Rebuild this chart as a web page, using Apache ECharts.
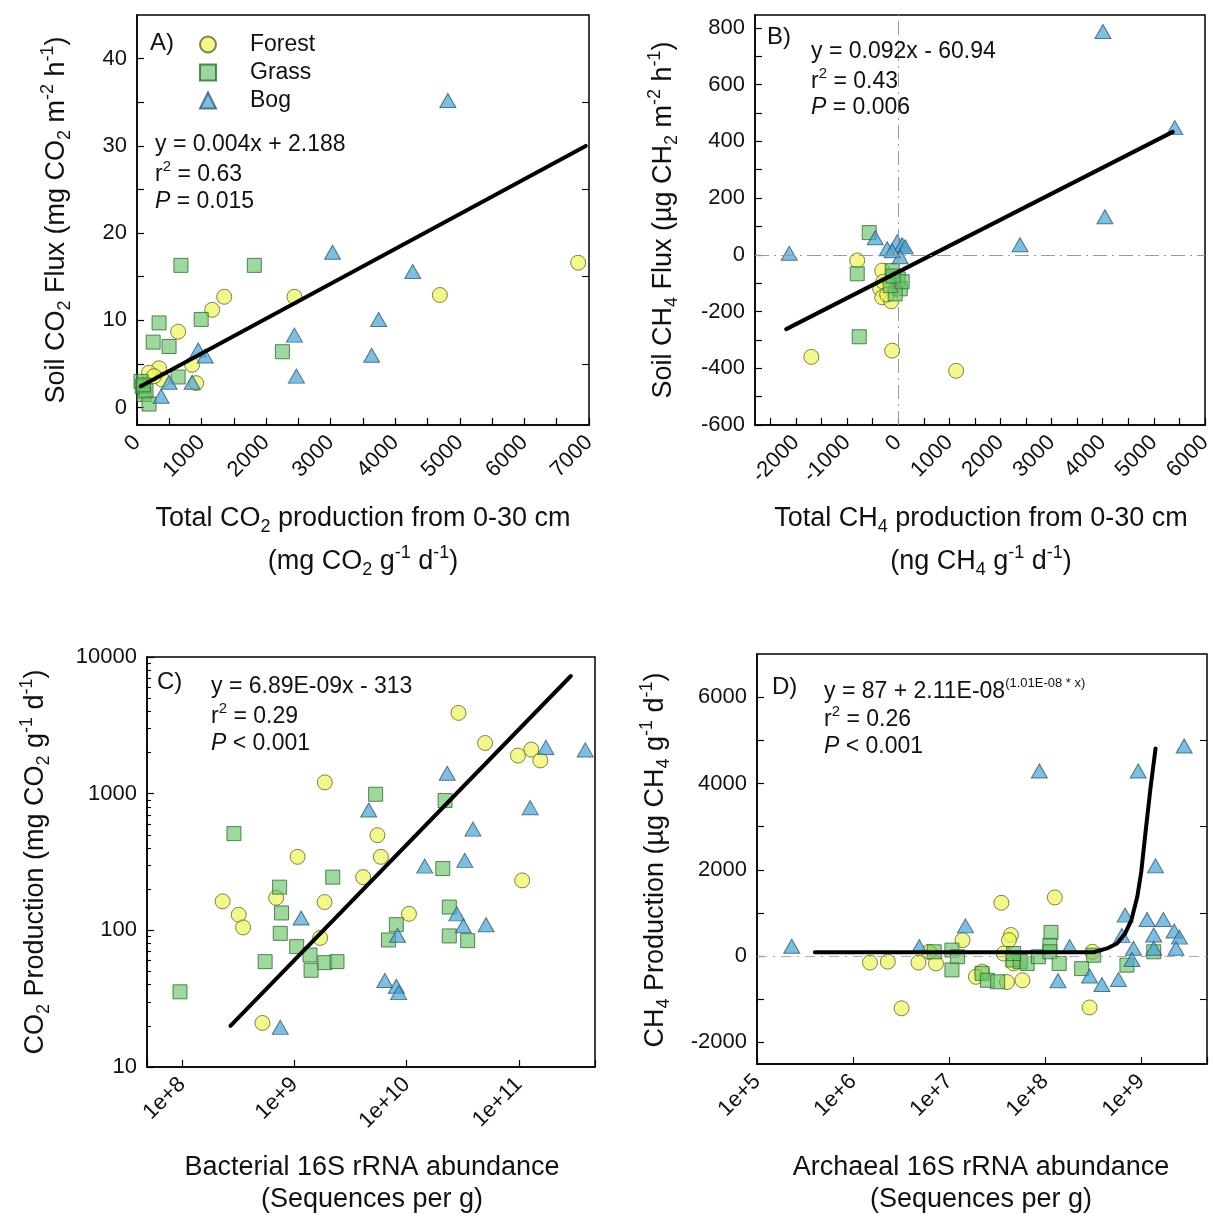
<!DOCTYPE html>
<html><head><meta charset="utf-8">
<script src="https://cdn.jsdelivr.net/npm/echarts@6/dist/echarts.min.js"></script>
<style>html,body{margin:0;padding:0;background:#fff}#c{width:1213px;height:1216px}</style>
</head><body><div id="c"></div>
<script>
// ---------- DATA ----------
// Panel A: Total CO2 production (x) vs Soil CO2 flux (y)
const forestA = [[6832,16.6],[4690,12.9],[2438,12.7],[1351,12.7],[1165,11.2],[637,8.7],[854,4.9],[916,2.8],[342,4.5],[186,4.0],[390,3.2],[264,3.6]];
const grassA  = [[680,16.3],[1817,16.3],[342,9.7],[994,10.1],[250,7.5],[497,7.0],[2252,6.4],[637,3.5],[62,3.0],[80,2.4],[109,1.5],[140,1.9],[186,0.4],[100,2.6]];
const bogA    = [[4814,35.2],[3028,17.8],[4270,15.6],[3742,10.1],[2438,8.3],[3634,6.0],[2469,3.6],[947,6.6],[1056,5.9],[497,2.9],[854,2.9],[373,1.3]];
const fitA    = [[60,2.43],[6950,29.99]];
// Panel B: Total CH4 production (x) vs Soil CH4 flux (y)
const forestB = [[-1699,-360],[1133,-409],[-117,-338],[-801,-20],[-312,-56],[-352,-120],[-312,-150],[-137,-164],[-293,-95],[-215,-140]];
const grassB  = [[-566,78],[-801,-67],[-762,-289],[-117,-56],[0,-85],[39,-120],[-59,-138],[-156,-109],[78,-95],[-98,-75]];
const bogB    = [[4004,787],[5410,448],[4043,134],[2383,35],[-2130,5],[-449,60],[-215,21],[-20,46],[78,35],[137,28],[39,-7],[-117,14]];
const fitB    = [[-2190,-262],[5370,433]];
// Panel C: Bacterial 16S abundance (x, log) vs CO2 production (y, log)
const forestC = [[2.9e10,3900],[5.0e10,2350],[9.8e10,1900],[1.29e11,2100],[1.55e11,1750],[1.07e11,232],[1.87e9,1210],[5.5e9,497],[5.9e9,345],[1.07e9,345],[4.1e9,245],[1.86e9,161],[2.3e8,163],[3.2e8,130],[3.5e8,105],[6.9e8,173],[1.7e9,88],[1.05e10,132],[5.2e8,21]];
const grassC  = [[2.9e8,510],[9.6e7,35.5],[7.4e8,207],[7.7e8,134],[7.5e8,95],[5.5e8,59],[1.05e9,76],[1.38e9,66],[1.41e9,51],[1.87e9,58],[2.4e9,59],[2.2e9,245],[5.3e9,990],[6.9e9,85],[8.1e9,110],[2.2e10,890],[2.1e10,283],[2.4e10,148],[2.4e10,91],[3.5e10,84]];
const bogC    = [[1.74e11,2180],[3.9e11,2090],[2.3e10,1410],[1.26e11,790],[4.6e9,760],[3.9e10,550],[1.45e10,295],[3.3e10,325],[2.8e10,132],[3.2e10,108],[5.1e10,110],[1.15e9,123],[8.3e9,92],[6.4e9,43],[8.1e9,39],[8.5e9,35],[7.5e8,19.5]];
const fitC    = [[2.7e8,20],[2.9e11,7260]];
// Panel D: Archaeal 16S abundance (x, log) vs CH4 production (y)
const forestD = [[1.5e6,-150],[2.3e6,-130],[3.2e6,-1210],[4.8e6,-150],[7.3e6,-170],[6.2e6,100],[1.38e7,370],[2.2e7,-360],[1.9e7,-480],[3.5e7,1235],[4.4e7,490],[4.2e7,370],[3.7e7,60],[4.7e7,-170],[4.0e7,-600],[5.8e7,-560],[1.26e8,1360],[3.1e8,100],[2.9e8,-1190]];
const grassD  = [[7.0e6,100],[1.07e7,140],[1.22e7,-15],[1.07e7,-320],[2.2e7,-400],[2.5e7,-560],[3.2e7,-595],[4.6e7,-90],[5.5e7,-130],[6.5e7,-170],[8.5e7,-15],[1.15e8,550],[1.12e8,250],[1.12e8,100],[1.4e8,-170],[2.4e8,-290],[3.2e8,20],[7.1e8,-210],[1.35e9,100],[4.7e7,60]];
const bogD    = [[2.3e5,230],[8.7e7,4290],[9.3e8,4290],[2.8e9,4870],[1.41e9,2090],[1.48e7,700],[4.9e6,220],[6.8e8,950],[1.15e9,850],[1.7e9,850],[1.35e9,490],[2.2e9,580],[2.5e9,440],[2.3e9,180],[8.3e8,180],[8.0e8,-77],[1.35e9,180],[1.8e8,220],[1.36e8,-570],[2.9e8,-460],[3.9e8,-660],[5.8e8,-540],[6.3e8,480]];
const fitD    = [[4.0e5,87],[3.2e8,90],[4.4e8,178],[5.6e8,294],[6.8e8,526],[7.9e8,834],[9.1e8,1374],[1.0e9,1950],[1.1e9,2800],[1.25e9,3900],[1.41e9,4810]];

// ---------- TICKS ----------
const labelsAx = [0,1000,2000,3000,4000,5000,6000,7000];
const ticksAx  = [0,500,1000,1500,2000,2500,3000,3500,4000,4500,5000,5500,6000,6500,7000];
const labelsAy = [0,10,20,30,40];
const ticksAy  = [0,5,10,15,20,25,30,35,40];
const rightAy  = [5,15,25,35];
const labelsBx = [-2000,-1000,0,1000,2000,3000,4000,5000,6000];
const ticksBx  = [-2500,-2000,-1500,-1000,-500,0,500,1000,1500,2000,2500,3000,3500,4000,4500,5000,5500,6000];
const labelsBy = [-600,-400,-200,0,200,400,600,800];
const ticksBy  = [-600,-500,-400,-300,-200,-100,0,100,200,300,400,500,600,700,800];
const labelsDy = [-2000,0,2000,4000,6000];
const ticksDy  = [-2000,-1000,0,1000,2000,3000,4000,5000,6000];
const rightDy  = [-1000,1000,3000,5000];
const minorCy  = [20,30,40,50,60,70,80,90,200,300,400,500,600,700,800,900,2000,3000,4000,5000,6000,7000,8000,9000];

// ---------- STYLE ----------
const FONT = 'Liberation Sans';
const TXT = '#111';
const chart = echarts.init(document.getElementById('c'));

const sty = {
  Forest: {symbol:'circle', symbolSize:15, itemStyle:{color:'rgba(236,245,92,0.88)', borderColor:'#5f6420', borderWidth:1}},
  Grass:  {symbol:'rect', symbolSize:14, itemStyle:{color:'rgba(100,192,100,0.78)', borderColor:'#2f6a2f', borderWidth:1}},
  Bog:    {symbol:'triangle', symbolSize:[16,14], itemStyle:{color:'rgba(74,162,210,0.88)', borderColor:'#2a5a78', borderWidth:1}}
};
function sc(name, gx, gy, data, extra) {
  return Object.assign({type:'scatter', name, xAxisIndex:gx, yAxisIndex:gy, data, z:2, symbolKeepAspect:true}, sty[name], extra||{});
}
function fit(gx, gy, data) {
  return {type:'line', name:'fit'+gx, xAxisIndex:gx, yAxisIndex:gy, data, showSymbol:false, symbol:'none',
          lineStyle:{color:'#000', width:4, join:'round', cap:'round'}, z:4, silent:true};
}
const axLine = {show:true, onZero:false, lineStyle:{color:'#000', width:1.5}};
function linAxis(g, min, max, labels, ticks, rot) {
  return {type:'value', gridIndex:g, min, max,
    axisLine: axLine,
    axisTick:{show:true, inside:true, length:7, customValues:ticks, lineStyle:{color:'#000', width:1.2}},
    axisLabel:{customValues:labels, fontSize:22, fontFamily:FONT, color:TXT, margin: rot ? 14 : 10, rotate: rot||0, hideOverlap:false,
      formatter: v => String(v)},
    splitLine:{show:false}};
}
function logAxis(g, min, max, sciFmt, rot) {
  return {type:'log', logBase:10, gridIndex:g, min, max,
    axisLine: axLine,
    axisTick:{show:true, inside:true, length:7, lineStyle:{color:'#000', width:1.2}},
    axisLabel:{fontSize:22, fontFamily:FONT, color:TXT, margin: rot ? 14 : 10, rotate: rot||0, hideOverlap:false,
      formatter: v => { const e = Math.log10(v); if (Math.abs(e - Math.round(e)) > 1e-6) return ''; return sciFmt ? '1e+' + Math.round(e) : String(Math.round(v)); }},
    splitLine:{show:false}, minorTick:{show:false}};
}
function tickOnlyAxis(g, min, max, ticks, pos, len) {
  return {type:'value', gridIndex:g, min, max, position:pos, axisLine:{show:false, onZero:false}, axisLabel:{show:false}, splitLine:{show:false},
    axisTick:{show:true, inside:true, length:len, customValues:ticks, lineStyle:{color:'#000', width:1.1}}};
}

function rich(S) {
  const s = Math.round(S*0.66);
  return {
    n:{fontSize:S, fontFamily:FONT, fill:TXT, lineHeight:S+8},
    i:{fontSize:S, fontFamily:FONT, fill:TXT, fontStyle:'italic', lineHeight:S+8},
    sub:{fontSize:s, fontFamily:FONT, fill:TXT, lineHeight:s, verticalAlign:'bottom'},
    sup:{fontSize:s, fontFamily:FONT, fill:TXT, lineHeight:s, verticalAlign:'top'},
    ssup:{fontSize:Math.round(S*0.55), fontFamily:FONT, fill:TXT, lineHeight:Math.round(S*0.55), verticalAlign:'top'}
  };
}
function txt(text, x, y, S, align, rotate) {
  return {type:'text', x, y, rotation: rotate ? Math.PI/2 : 0, z:10, silent:true,
    style:{text, rich:rich(S), fill:TXT, font: S + 'px "' + FONT + '"', align: align||'left', verticalAlign:'middle'}};
}

const TS = 27;
const graphics = [
  txt('{n|A)}', 150, 43, 24), txt('{n|B)}', 767, 37, 24), txt('{n|C)}', 157, 682, 24), txt('{n|D)}', 772, 687, 24),
  txt('{n|y = 0.004x + 2.188}', 155, 145, 23),
  txt('{n|r}{sup|2}{n| = 0.63}', 155, 175, 23),
  txt('{i|P}{n| = 0.015}', 155, 202, 23),
  txt('{n|y = 0.092x - 60.94}', 811, 52, 23),
  txt('{n|r}{sup|2}{n| = 0.43}', 811, 82, 23),
  txt('{i|P}{n| = 0.006}', 811, 108, 23),
  txt('{n|y = 6.89E-09x - 313}', 211, 687, 23),
  txt('{n|r}{sup|2}{n| = 0.29}', 211, 717, 23),
  txt('{i|P}{n| < 0.001}', 211, 744, 23),
  txt('{n|y = 87 + 2.11E-08}{ssup|(1.01E-08 * x)}', 824, 692, 23),
  txt('{n|r}{sup|2}{n| = 0.26}', 824, 720, 23),
  txt('{i|P}{n| < 0.001}', 824, 747, 23),
  txt('{n|Total CO}{sub|2}{n| production from 0-30 cm}', 363, 519, TS, 'center'),
  txt('{n|(mg CO}{sub|2}{n| g}{sup|-1}{n| d}{sup|-1}{n|)}', 363, 562, TS, 'center'),
  txt('{n|Total CH}{sub|4}{n| production from 0-30 cm}', 981, 519, TS, 'center'),
  txt('{n|(ng CH}{sub|4}{n| g}{sup|-1}{n| d}{sup|-1}{n|)}', 981, 562, TS, 'center'),
  txt('{n|Bacterial 16S rRNA abundance}', 372, 1168, TS, 'center'),
  txt('{n|(Sequences per g)}', 372, 1200, TS, 'center'),
  txt('{n|Archaeal 16S rRNA abundance}', 981, 1168, TS, 'center'),
  txt('{n|(Sequences per g)}', 981, 1200, TS, 'center'),
  txt('{n|Soil CO}{sub|2}{n| Flux (mg CO}{sub|2}{n| m}{sup|-2}{n| h}{sup|-1}{n|)}', 57, 220, TS, 'center', true),
  txt('{n|Soil CH}{sub|4}{n| Flux (\u00b5g CH}{sub|2}{n| m}{sup|-2}{n| h}{sup|-1}{n|)}', 664, 220, TS, 'center', true),
  txt('{n|CO}{sub|2}{n| Production (mg CO}{sub|2}{n| g}{sup|-1}{n| d}{sup|-1}{n|)}', 36, 862, TS, 'center', true),
  txt('{n|CH}{sub|4}{n| Production (\u00b5g CH}{sub|4}{n| g}{sup|-1}{n| d}{sup|-1}{n|)}', 656, 860, TS, 'center', true)
];

const gridBase = {show:true, borderColor:'#000', borderWidth:1.5, backgroundColor:'transparent', containLabel:false, outerBoundsMode:'none'};
const option = {
  animation:false,
  backgroundColor:'#fff',
  textStyle:{fontFamily:FONT},
  grid:[
    Object.assign({left:137, top:15, width:452, height:410}, gridBase),
    Object.assign({left:755, top:15, width:450, height:410}, gridBase),
    Object.assign({left:147, top:657, width:448, height:410}, gridBase),
    Object.assign({left:757, top:654, width:450, height:410}, gridBase)
  ],
  legend:{data:['Forest','Grass','Bog'], orient:'vertical', left:199, top:33, padding:0,
    itemWidth:16, itemHeight:16, itemGap:5, selectedMode:false, symbolKeepAspect:true,
    textStyle:{fontSize:23, fontFamily:FONT, color:TXT, padding:[0,0,0,29]}},
  xAxis:[
    linAxis(0, 0, 7000, labelsAx, ticksAx, 45),
    linAxis(1, -2800, 6000, labelsBx, ticksBx, 45),
    logAxis(2, 4.88e7, 4.76e11, true, 45),
    logAxis(3, 1.0e5, 4.84e9, true, 45)
  ],
  yAxis:[
    linAxis(0, -2, 45, labelsAy, ticksAy),
    linAxis(1, -600, 845, labelsBy, ticksBy),
    logAxis(2, 10, 10000, false),
    linAxis(3, -2500, 7000, labelsDy, ticksDy),
    tickOnlyAxis(2, 1, 4, minorCy.map(v => Math.log10(v)), 'left', 4),
    tickOnlyAxis(0, -2, 45, rightAy, 'right', 7),
    tickOnlyAxis(3, -2500, 7000, rightDy, 'right', 7)
  ],
  series:[
    sc('Forest',0,0,forestA), sc('Grass',0,0,grassA), sc('Bog',0,0,bogA), fit(0,0,fitA),
    sc('Forest',1,1,forestB,{markLine:{silent:true, symbol:'none', label:{show:false}, animation:false,
      lineStyle:{color:'#9a9a9a', type:[14,5,2,5], width:1}, data:[{xAxis:0},{yAxis:0}]}}),
    sc('Grass',1,1,grassB), sc('Bog',1,1,bogB), fit(1,1,fitB),
    sc('Forest',2,2,forestC), sc('Grass',2,2,grassC), sc('Bog',2,2,bogC), fit(2,2,fitC),
    sc('Forest',3,3,forestD,{markLine:{silent:true, symbol:'none', label:{show:false}, animation:false,
      lineStyle:{color:'#aaaaaa', type:[10,6,2,6], width:1}, data:[{yAxis:0}]}}),
    sc('Grass',3,3,grassD), sc('Bog',3,3,bogD), fit(3,3,fitD)
  ],
  graphic: graphics
};
chart.setOption(option);
</script></body></html>
